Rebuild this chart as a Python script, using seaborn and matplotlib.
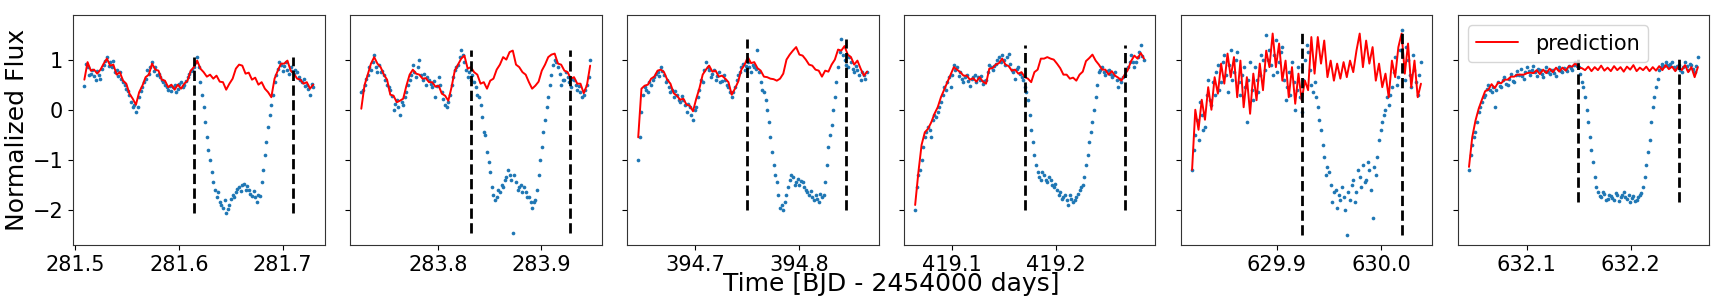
import numpy as np
import matplotlib
matplotlib.use('Agg')
import matplotlib.pyplot as plt
from matplotlib.ticker import MultipleLocator, FormatStrFormatter
import seaborn as sns

# time window of each light curve segment (BJD - 2454000)
t_start = [281.5089, 283.7257, 394.6454, 419.0646, 629.8185, 632.0447]
t_end = [281.7295, 283.9477, 394.8656, 419.2841, 630.0384, 632.2646]
# transit start / end markers
t_in = [281.6142, 283.8320, 394.7503, 419.1695, 629.9238, 632.1493]
t_out = [281.7096, 283.9280, 394.8457, 419.2662, 630.0202, 632.2460]

# observed flux (blue points)
flux_1 = [0.48, 0.92, 0.85, 0.70, 0.72, 0.80, 0.68, 0.60, 0.78, 0.70, 0.62, 0.82, 0.90, 0.98, 1.05, 0.88, 0.95, 0.85, 0.98, 0.75,
          0.80, 0.68, 0.75, 0.62, 0.55, 0.50, 0.42, 0.38, 0.30, 0.15, 0.05, 0.10, -0.05, 0.05, 0.25, 0.38, 0.45, 0.55, 0.62, 0.80,
          0.72, 0.85, 0.95, 0.78, 0.85, 0.70, 0.72, 0.65, 0.60, 0.55, 0.50, 0.45, 0.40, 0.48, 0.38, 0.45, 0.50, 0.35, 0.42, 0.52,
          0.55, 0.45, 0.50, 0.58, 0.65, 0.72, 0.78, 0.80, 0.85, 0.95, 1.05, 0.85, 0.55, 0.30, 0.05, -0.25, -0.55, -0.80, -1.00, -1.25,
          -1.45, -1.60, -1.75, -1.65, -1.85, -1.90, -1.95, -1.80, -2.05, -1.98, -1.90, -1.78, -1.70, -1.75, -1.65, -1.58, -1.55, -1.62, -1.50, -1.48,
          -1.60, -1.52, -1.60, -1.68, -1.72, -1.62, -1.75, -1.85, -1.70, -1.72, -1.45, -1.20, -0.90, -0.65, -0.35, -0.10, 0.10, 0.30, 0.55, 0.70,
          0.82, 0.95, 0.90, 0.78, 0.88, 0.95, 0.80, 0.72, 0.85, 0.78, 0.72, 0.80, 0.75, 0.65, 0.60, 0.55, 0.62, 0.48, 0.50, 0.42,
          0.30, 0.52, 0.45]
flux_2 = [0.35, 0.40, 0.50, 0.62, 0.70, 0.85, 0.80, 0.95, 1.10, 0.85, 0.75, 0.90, 0.75, 0.78, 0.70, 0.60, 0.50, 0.45, 0.40, 0.28,
          0.00, 0.12, 0.20, 0.05, -0.10, 0.15, 0.10, 0.25, 0.35, 0.50, 0.60, 0.70, 0.90, 0.75, 0.65, 0.85, 1.00, 0.70, 0.60, 0.72,
          0.50, 0.65, 0.60, 0.52, 0.45, 0.58, 0.25, 0.48, 0.65, 0.50, 0.35, 0.22, 0.10, 0.05, 0.15, 0.30, 0.50, 0.65, 0.80, 0.85,
          0.90, 1.05, 1.20, 1.10, 0.95, 0.80, 0.65, 0.75, 0.60, 0.70, 0.55, 0.45, 0.30, 0.25, 0.10, -0.15, -0.45, -0.50, -0.85, -1.05,
          -1.25, -1.55, -1.70, -1.80, -1.75, -1.60, -1.65, -1.50, -1.55, -1.40, -1.35, -1.20, -1.30, -1.40, -2.45, -1.30, -1.45, -1.60, -1.55, -1.50,
          -1.65, -1.55, -1.65, -1.75, -1.75, -1.85, -1.95, -1.85, -1.80, -1.60, -1.30, -1.00, -0.75, -0.45, -0.20, 0.05, 0.25, 0.50, 0.70, 0.90,
          1.00, 0.95, 0.85, 0.72, 0.50, 0.60, 0.60, 0.75, 0.65, 0.55, 0.45, 0.62, 0.60, 0.50, 0.40, 0.48, 0.35, 0.25, 0.30, 0.40,
          0.50, 0.65, 1.00]
flux_3 = [-1.00, -0.55, -0.05, 0.30, 0.45, 0.40, 0.35, 0.55, 0.50, 0.60, 0.65, 0.72, 0.75, 0.68, 0.85, 0.78, 0.70, 0.55, 0.60, 0.45,
          0.35, 0.40, 0.25, 0.38, 0.30, 0.20, 0.15, 0.28, 0.20, 0.10, -0.05, 0.12, 0.05, -0.10, -0.20, 0.00, 0.05, 0.25, 0.40, 0.60,
          0.55, 0.80, 0.95, 0.85, 0.80, 0.65, 0.72, 0.80, 0.60, 0.68, 0.75, 0.55, 0.58, 0.70, 0.60, 0.50, 0.45, 0.35, 0.25, 0.35,
          0.45, 0.60, 0.70, 0.75, 0.85, 0.92, 0.80, 0.88, 0.95, 0.85, 0.75, 0.90, 0.85, 0.82, 1.20, 0.75, 0.55, 0.40, 0.35, 0.20,
          0.00, -0.25, -0.55, -0.85, -1.10, -1.30, -1.45, -1.70, -1.95, -1.90, -2.00, -1.85, -1.70, -1.55, -1.40, -1.30, -1.35, -1.50, -1.45, -1.38,
          -1.50, -1.42, -1.45, -1.55, -1.60, -1.65, -1.70, -1.62, -1.75, -1.80, -1.70, -1.78, -1.85, -1.68, -1.75, -1.70, -1.45, -1.10, -0.75, -0.50,
          -0.30, 0.00, 0.25, 0.55, 0.85, 1.15, 1.42, 1.10, 1.00, 0.90, 0.85, 1.05, 0.95, 0.82, 0.75, 0.88, 0.80, 0.70, 0.60, 0.75,
          0.70, 0.62, 0.75]
flux_4 = [-2.00, -1.55, -1.30, -1.20, -1.00, -0.75, -0.55, -0.45, -0.35, -0.40, -0.55, -0.20, -0.10, -0.15, -0.05, 0.05, 0.15, 0.30, 0.45, 0.40,
          0.55, 0.65, 0.45, 0.70, 0.90, 0.80, 0.85, 0.68, 0.75, 0.62, 0.55, 0.65, 0.70, 0.58, 0.48, 0.62, 0.65, 0.70, 0.55, 0.65,
          0.60, 0.68, 0.52, 0.58, 0.60, 0.75, 0.90, 0.85, 0.80, 0.88, 0.92, 1.00, 1.05, 0.95, 1.10, 1.00, 0.90, 1.05, 1.12, 0.92,
          0.80, 0.75, 0.62, 0.82, 0.85, 0.72, 0.65, 0.60, 0.45, 0.35, 0.20, -0.10, -0.40, -0.65, -0.90, -1.10, -1.25, -1.35, -1.40, -1.25,
          -1.30, -1.40, -1.45, -1.35, -1.40, -1.50, -1.55, -1.48, -1.60, -1.70, -1.65, -1.78, -1.75, -1.70, -1.80, -1.90, -1.70, -1.78, -1.85, -1.80,
          -1.75, -1.68, -1.60, -1.55, -1.50, -1.35, -1.10, -0.90, -0.65, -0.45, -0.25, 0.00, 0.25, 0.50, 0.75, 0.80, 0.85, 0.75, 0.70, 0.78,
          0.80, 0.72, 0.65, 0.70, 0.75, 0.60, 0.45, 0.62, 0.55, 0.65, 0.70, 0.80, 0.85, 0.95, 1.10, 0.95, 0.85, 0.95, 1.05, 1.15,
          1.30, 1.08, 1.00]
flux_5 = [-1.20, -0.80, -0.50, -0.20, -0.60, 0.15, -0.10, -0.40, -0.35, 0.30, 0.60, 0.20, 0.10, 0.55, 0.30, 0.75, 0.90, 0.40, 0.55, 0.95,
          1.10, 0.70, 0.35, 0.90, 1.20, 0.60, 0.75, 1.00, 1.15, 0.55, 0.30, 0.70, 0.85, 0.45, -0.25, 0.60, 0.95, 0.40, 0.20, 0.85,
          0.60, 0.35, 0.70, 1.10, 1.00, 0.80, 1.50, 1.00, 1.20, 0.90, 0.70, 1.10, 1.40, 0.75, 0.95, 1.15, 1.25, 0.60, 0.20, 0.45,
          0.75, 0.30, 0.95, 0.55, 0.00, 0.40, 0.85, 0.25, -0.05, 0.60, 1.00, 1.30, 1.15, 0.80, 0.50, 0.35, 0.55, 0.25, 0.05, -0.20,
          -0.40, -0.70, -0.95, -1.30, -1.15, -1.25, -1.50, -1.85, -1.65, -1.60, -1.95, -1.70, -1.80, -1.55, -1.75, -2.00, -2.50, -1.65, -1.80, -1.50,
          -1.40, -1.85, -1.65, -1.20, -1.35, -1.55, -1.10, -1.45, -1.40, -1.05, -1.20, -1.60, -2.15, -1.15, -1.30, -0.95, -0.60, -0.40, -0.25, -0.10,
          0.00, 0.25, 0.10, 0.30, 0.45, 0.75, 1.05, 0.50, 0.65, 1.20, 1.60, 0.85, 0.60, 1.25, 1.00, 0.70, 0.45, 1.10, 0.80, 0.55,
          0.30, 0.70, 0.95]
flux_6 = [-1.20, -0.90, -0.70, -0.55, -0.45, -0.25, -0.05, 0.05, 0.15, 0.25, 0.30, 0.42, 0.50, 0.40, 0.35, 0.45, 0.05, 0.40, 0.55, 0.48,
          0.45, 0.60, 0.65, 0.52, 0.50, 0.62, 0.72, 0.58, 0.55, 0.70, 0.78, 0.70, 0.82, 0.68, 0.62, 0.75, 0.85, 0.78, 0.70, 0.80,
          0.88, 0.75, 0.68, 0.82, 0.80, 0.72, 0.65, 0.78, 0.85, 0.75, 0.72, 0.80, 0.80, 0.74, 0.68, 0.82, 0.85, 0.78, 0.75, 0.84,
          0.82, 0.78, 0.88, 0.84, 0.80, 0.90, 0.95, 0.88, 0.85, 0.72, 0.55, 0.45, 0.25, 0.00, -0.25, -0.55, -0.80, -1.05, -1.35, -1.55,
          -1.65, -1.72, -1.75, -1.65, -1.68, -1.80, -1.78, -1.70, -1.72, -1.76, -1.80, -1.66, -1.70, -1.82, -1.75, -1.70, -1.65, -1.74, -1.78, -1.70,
          -1.85, -1.76, -1.72, -1.82, -1.80, -1.74, -1.70, -1.66, -1.55, -1.35, -1.10, -0.85, -0.60, -0.25, 0.05, 0.25, 0.45, 0.62, 0.80, 0.85,
          0.92, 0.88, 0.95, 0.90, 0.88, 0.92, 0.95, 0.85, 0.82, 0.88, 0.90, 0.80, 0.75, 0.85, 0.95, 0.88, 0.80, 0.92, 0.90, 0.82,
          0.75, 0.88, 1.05]

# model prediction (red line)
pred_1 = [0.60, 0.95, 0.78, 0.80, 0.72, 0.80, 0.92, 1.02, 0.88, 0.90,
          0.70, 0.75, 0.58, 0.52, 0.32, 0.22, 0.10, 0.35, 0.48, 0.65,
          0.70, 0.92, 0.80, 0.78, 0.60, 0.58, 0.45, 0.50, 0.40, 0.50,
          0.42, 0.52, 0.58, 0.78, 0.85, 0.98, 0.82, 0.75, 0.66, 0.70,
          0.62, 0.68, 0.56, 0.55, 0.40, 0.52, 0.62, 0.82, 0.90, 0.88,
          0.72, 0.74, 0.60, 0.64, 0.50, 0.55, 0.42, 0.35, 0.25, 0.62,
          0.78, 0.92, 0.92, 0.98, 0.78, 0.72, 0.62, 0.60, 0.52, 0.55,
          0.42, 0.50]
pred_2 = [0.02, 0.49, 0.70, 0.92, 1.05, 0.92, 0.85, 0.70, 0.60, 0.30,
          0.28, 0.15, 0.18, 0.22, 0.48, 0.70, 0.80, 0.72, 0.70, 0.62,
          0.63, 0.55, 0.55, 0.46, 0.48, 0.32, 0.28, 0.18, 0.45, 0.78,
          0.90, 1.02, 1.08, 0.82, 0.85, 0.75, 0.70, 0.52, 0.55, 0.42,
          0.58, 0.62, 0.80, 0.90, 1.05, 1.00, 1.15, 1.18, 0.90, 0.85,
          0.75, 0.70, 0.55, 0.42, 0.48, 0.56, 0.78, 0.90, 1.05, 1.10,
          1.12, 0.92, 0.90, 0.78, 0.75, 0.62, 0.65, 0.52, 0.52, 0.33,
          0.49, 0.88]
pred_3 = [-0.55, 0.42, 0.48, 0.50, 0.62, 0.66, 0.78, 0.80, 0.75, 0.60,
          0.52, 0.33, 0.28, 0.20, 0.22, 0.10, 0.08, -0.03, 0.22, 0.43,
          0.70, 0.80, 0.88, 0.76, 0.78, 0.66, 0.68, 0.62, 0.55, 0.30,
          0.42, 0.56, 0.80, 0.90, 1.05, 0.93, 0.95, 0.83, 0.78, 0.66,
          0.65, 0.62, 0.61, 0.58, 0.62, 0.72, 1.00, 1.10, 1.18, 1.25,
          1.10, 1.08, 1.00, 0.90, 0.88, 0.80, 0.78, 0.66, 0.78, 0.76,
          0.90, 1.00, 1.20, 1.18, 1.27, 1.10, 1.05, 0.90, 0.98, 0.82,
          0.68, 0.76]
pred_4 = [-1.90, -1.25, -0.70, -0.45, -0.38, -0.25, -0.08, 0.05, 0.25, 0.40,
          0.55, 0.70, 0.85, 0.80, 0.75, 0.68, 0.68, 0.60, 0.63, 0.56,
          0.65, 0.56, 0.52, 0.82, 0.83, 0.90, 0.93, 1.02, 0.90, 0.87,
          0.78, 0.80, 0.72, 0.75, 0.65, 0.62, 0.55, 0.75, 0.80, 1.02,
          1.02, 1.05, 1.02, 1.00, 0.92, 0.83, 0.70, 0.70, 0.62, 0.64,
          0.58, 0.70, 0.76, 0.97, 1.03, 1.10, 0.98, 0.90, 0.80, 0.80,
          0.70, 0.77, 0.68, 0.64, 0.58, 0.70, 0.80, 0.97, 1.08, 1.02,
          1.13, 1.02]
pred_5 = [-1.20, 0.00, -0.40, 0.20, -0.20, 0.45, 0.00, 0.65, 0.32, 0.92,
          0.52, 1.12, 0.65, 1.05, 0.25, 0.98, 0.05, 0.65, -0.08, 0.72,
          0.19, 0.92, 0.39, 1.18, 0.85, 1.52, 0.85, 1.32, 0.58, 0.98,
          0.25, 0.85, 0.12, 0.72, 0.19, 0.58, 0.39, 1.45, 0.72, 1.45,
          0.92, 1.38, 0.65, 0.98, 0.58, 0.92, 0.62, 0.95, 0.65, 0.98,
          0.75, 1.18, 1.52, 0.85, 1.38, 0.92, 1.25, 0.58, 0.92, 0.45,
          0.72, 0.25, 0.98, 0.65, 1.25, 1.52, 0.72, 1.32, 0.45, 0.98,
          0.25, 0.52]
pred_6 = [-1.14, -0.55, -0.22, 0.02, 0.20, 0.37, 0.40, 0.51, 0.43, 0.54,
          0.53, 0.60, 0.60, 0.66, 0.66, 0.70, 0.70, 0.70, 0.73, 0.74,
          0.73, 0.79, 0.71, 0.80, 0.73, 0.82, 0.75, 0.84, 0.76, 0.84,
          0.78, 0.87, 0.86, 0.93, 0.84, 0.83, 0.79, 0.86, 0.77, 0.85,
          0.79, 0.88, 0.78, 0.84, 0.77, 0.87, 0.79, 0.85, 0.76, 0.86,
          0.80, 0.89, 0.77, 0.84, 0.79, 0.86, 0.77, 0.85, 0.78, 0.87,
          0.79, 0.89, 0.81, 0.86, 0.77, 0.87, 0.79, 0.89, 0.75, 0.85,
          0.65, 0.85]

fluxes = [flux_1, flux_2, flux_3, flux_4, flux_5, flux_6]
preds = [pred_1, pred_2, pred_3, pred_4, pred_5, pred_6]

sns.set_style('ticks', {'axes.edgecolor': '.2', 'text.color': 'black',
                        'xtick.color': 'black', 'ytick.color': 'black'})
plt.rcParams['font.family'] = ['DejaVu Sans']

fig, axes = plt.subplots(1, 6, figsize=(17.32, 3.06), dpi=100, sharey=True)
left, right = 0.0421, 0.9869
fig.subplots_adjust(left=left, right=right, bottom=0.199, top=0.951, wspace=0.1)

for i, ax in enumerate(axes):
    flux = np.array(fluxes[i])
    pred = np.array(preds[i])
    t = np.linspace(t_start[i], t_end[i], len(flux))
    tp = np.linspace(t_start[i], t_end[i], len(pred))
    sns.scatterplot(x=t, y=flux, ax=ax, s=7, color='#1f77b4', linewidth=0, zorder=2)
    sns.lineplot(x=tp, y=pred, ax=ax, color='red', lw=1.4, errorbar=None, zorder=3,
                 label='prediction' if i == 5 else None)
    ax.vlines([t_in[i], t_out[i]], flux.min(), flux.max(), colors='k',
              linestyles='--', lw=2, zorder=4)
    ax.xaxis.set_major_locator(MultipleLocator(0.1))
    ax.xaxis.set_major_formatter(FormatStrFormatter('%.1f'))
    ax.yaxis.set_major_locator(MultipleLocator(1))
    ax.tick_params(labelsize=15)
    ax.set_xlabel('')
    ax.set_ylabel('')

axes[0].set_ylim(-2.7, 1.89)
axes[5].legend(loc='upper left', fontsize=15)

fig.text(0.0097, 0.575, 'Normalized Flux', rotation=90, ha='center', va='center', fontsize=18)
fig.text((left + right) / 2, 0.072, 'Time [BJD - 2454000 days]', ha='center', va='center', fontsize=18)

fig.savefig('out.png', dpi=100)
